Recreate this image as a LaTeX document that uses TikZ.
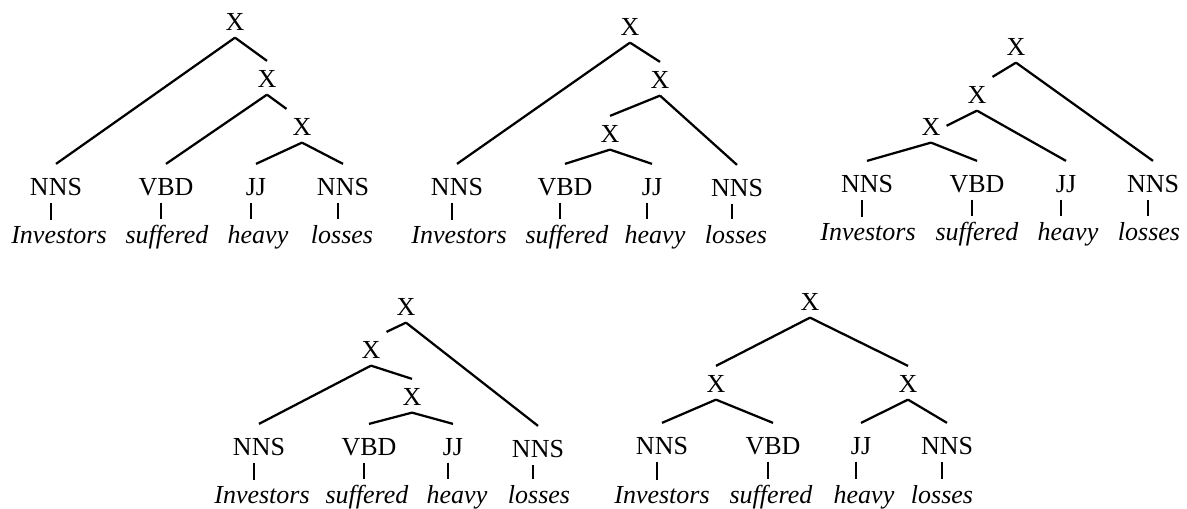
\documentclass[tikz,border=0pt]{standalone}
\usepackage{fontspec}
\setmainfont{Liberation Serif}
\begin{document}
\begin{tikzpicture}[x=0.4pt,y=-0.4pt, line width=0.9pt,
    every node/.style={font=\fontsize{10.4pt}{12pt}\selectfont},
    phrase/.style={anchor=base, inner sep=2pt, text height=8pt, text depth=0.6pt},
    tag/.style={anchor=base, inner sep=2pt, text height=10pt, text depth=0.6pt},
    word/.style={anchor=base, inner sep=2pt, font=\fontsize{10.4pt}{12pt}\selectfont\itshape}]
    \useasboundingbox (0,0) rectangle (1187,508);

    % tree 1
    \begin{scope}
        \node[phrase] (x1a) at (235,30) {X};
        \node[phrase] (x1b) at (267,87) {X};
        \node[phrase] (x1c) at (302,135) {X};
        \node[tag] (p1a) at (56,195) {NNS};
        \node[tag] (p1b) at (166,195) {VBD};
        \node[tag] (p1c) at (256,195) {JJ};
        \node[tag] (p1d) at (343,195) {NNS};
        \node[word] (w1a) at (59,243) {Investors};
        \node[word] (w1b) at (167,243) {suffered};
        \node[word] (w1c) at (258,243) {heavy};
        \node[word] (w1d) at (342,243) {losses};
        \draw (x1a.south) -- (p1a.north);
        \draw (x1a.south) -- (x1b.north);
        \draw (x1b.south) -- (p1b.north);
        \draw (x1b.south) -- (x1c.north west);
        \draw (x1c.south) -- (p1c.north);
        \draw (x1c.south) -- (p1d.north);
        \draw ([xshift=-2pt]p1a.south) -- ([xshift=-2pt]p1a.south |- w1a.north);
        \draw ([xshift=-2pt]p1b.south) -- ([xshift=-2pt]p1b.south |- w1b.north);
        \draw ([xshift=-2pt]p1c.south) -- ([xshift=-2pt]p1c.south |- w1c.north);
        \draw ([xshift=-2pt]p1d.south) -- ([xshift=-2pt]p1d.south |- w1d.north);
    \end{scope}

    % tree 2
    \begin{scope}[shift={(400,0)}]
        \node[phrase] (x2a) at (230,35) {X};
        \node[phrase] (x2b) at (260,88) {X};
        \node[phrase] (x2c) at (210,142) {X};
        \node[tag] (p2a) at (57,195) {NNS};
        \node[tag] (p2b) at (165,195) {VBD};
        \node[tag] (p2c) at (252,195) {JJ};
        \node[tag] (p2d) at (337,196) {NNS};
        \node[word] (w2a) at (59,243) {Investors};
        \node[word] (w2b) at (167,243) {suffered};
        \node[word] (w2c) at (255,243) {heavy};
        \node[word] (w2d) at (336,243) {losses};
        \draw (x2a.south) -- (p2a.north);
        \draw (x2a.south) -- (x2b.north);
        \draw (x2b.south) -- (x2c.north);
        \draw (x2b.south) -- (p2d.north);
        \draw (x2c.south) -- (p2b.north);
        \draw (x2c.south) -- (p2c.north);
        \draw ([xshift=-2pt]p2a.south) -- ([xshift=-2pt]p2a.south |- w2a.north);
        \draw ([xshift=-2pt]p2b.south) -- ([xshift=-2pt]p2b.south |- w2b.north);
        \draw ([xshift=-2pt]p2c.south) -- ([xshift=-2pt]p2c.south |- w2c.north);
        \draw ([xshift=-2pt]p2d.south) -- ([xshift=-2pt]p2d.south |- w2d.north);
    \end{scope}

    % tree 3
    \begin{scope}[shift={(790,0)}]
        \node[phrase] (x3a) at (226,55) {X};
        \node[phrase] (x3b) at (187,103) {X};
        \node[phrase] (x3c) at (141,135) {X};
        \node[tag] (p3a) at (77,192) {NNS};
        \node[tag] (p3b) at (187,192) {VBD};
        \node[tag] (p3c) at (276,192) {JJ};
        \node[tag] (p3d) at (363,192) {NNS};
        \node[word] (w3a) at (78,240) {Investors};
        \node[word] (w3b) at (187,240) {suffered};
        \node[word] (w3c) at (278,240) {heavy};
        \node[word] (w3d) at (359,240) {losses};
        \draw (x3a.south) -- (x3b.north east);
        \draw (x3a.south) -- (p3d.north);
        \draw (x3b.south) -- (x3c.east);
        \draw (x3b.south) -- (p3c.north);
        \draw (x3c.south) -- (p3a.north);
        \draw (x3c.south) -- (p3b.north);
        \draw ([xshift=-2pt]p3a.south) -- ([xshift=-2pt]p3a.south |- w3a.north);
        \draw ([xshift=-2pt]p3b.south) -- ([xshift=-2pt]p3b.south |- w3b.north);
        \draw ([xshift=-2pt]p3c.south) -- ([xshift=-2pt]p3c.south |- w3c.north);
        \draw ([xshift=-2pt]p3d.south) -- ([xshift=-2pt]p3d.south |- w3d.north);
    \end{scope}

    % tree 4
    \begin{scope}[shift={(200,260)}]
        \node[phrase] (x4a) at (206,55) {X};
        \node[phrase] (x4b) at (171,98) {X};
        \node[phrase] (x4c) at (212,145) {X};
        \node[tag] (p4a) at (59,195) {NNS};
        \node[tag] (p4b) at (169,195) {VBD};
        \node[tag] (p4c) at (253,195) {JJ};
        \node[tag] (p4d) at (338,197) {NNS};
        \node[word] (w4a) at (62,243) {Investors};
        \node[word] (w4b) at (167,243) {suffered};
        \node[word] (w4c) at (257,243) {heavy};
        \node[word] (w4d) at (339,243) {losses};
        \draw (x4a.south) -- (x4b.north east);
        \draw (x4a.south) -- (p4d.north);
        \draw (x4b.south) -- (p4a.north);
        \draw (x4b.south) -- (x4c.north);
        \draw (x4c.south) -- (p4b.north);
        \draw (x4c.south) -- (p4c.north);
        \draw ([xshift=-2pt]p4a.south) -- ([xshift=-2pt]p4a.south |- w4a.north);
        \draw ([xshift=-2pt]p4b.south) -- ([xshift=-2pt]p4b.south |- w4b.north);
        \draw ([xshift=-2pt]p4c.south) -- ([xshift=-2pt]p4c.south |- w4c.north);
        \draw ([xshift=-2pt]p4d.south) -- ([xshift=-2pt]p4d.south |- w4d.north);
    \end{scope}

    % tree 5
    \begin{scope}[shift={(600,260)}]
        \node[phrase] (x5a) at (210,50) {X};
        \node[phrase] (x5b) at (116,132) {X};
        \node[phrase] (x5c) at (308,132) {X};
        \node[tag] (p5a) at (62,194) {NNS};
        \node[tag] (p5b) at (173,194) {VBD};
        \node[tag] (p5c) at (261,194) {JJ};
        \node[tag] (p5d) at (347,194) {NNS};
        \node[word] (w5a) at (62,243) {Investors};
        \node[word] (w5b) at (171,243) {suffered};
        \node[word] (w5c) at (264,243) {heavy};
        \node[word] (w5d) at (342,243) {losses};
        \draw (x5a.south) -- (x5b.north);
        \draw (x5a.south) -- (x5c.north);
        \draw (x5b.south) -- (p5a.north);
        \draw (x5b.south) -- (p5b.north);
        \draw (x5c.south) -- (p5c.north);
        \draw (x5c.south) -- (p5d.north);
        \draw ([xshift=-2pt]p5a.south) -- ([xshift=-2pt]p5a.south |- w5a.north);
        \draw ([xshift=-2pt]p5b.south) -- ([xshift=-2pt]p5b.south |- w5b.north);
        \draw ([xshift=-2pt]p5c.south) -- ([xshift=-2pt]p5c.south |- w5c.north);
        \draw ([xshift=-2pt]p5d.south) -- ([xshift=-2pt]p5d.south |- w5d.north);
    \end{scope}
\end{tikzpicture}
\end{document}
